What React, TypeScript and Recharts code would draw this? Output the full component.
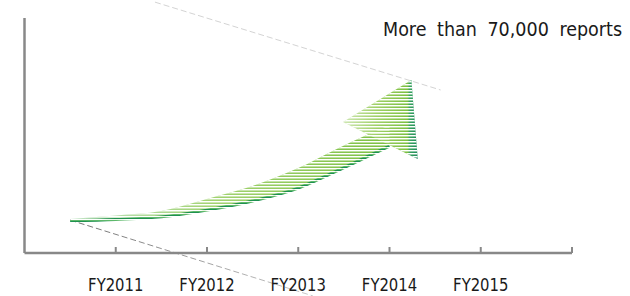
import React from 'react';
import { ComposedChart, Area, Line, XAxis, YAxis, ReferenceLine } from 'recharts';

// Axis categories (fiscal years) and their labels
const years = [2011, 2012, 2013, 2014, 2015, 2016];
const yearLabels = ['FY2011', 'FY2012', 'FY2013', 'FY2014', 'FY2015', ''];

// Growth arrow body: x position (fiscal year) with lower / upper edge values
const bodyX = [2010.5, 2011, 2011.5, 2012, 2012.5, 2013, 2013.4, 2013.75, 2014];
const bodyLow = [10.9, 11.4, 12.3, 14.6, 17.7, 22.1, 27.6, 32.7, 36.4];
const bodyHigh = [11.6, 12.8, 14.3, 18.4, 22.8, 28.9, 35.1, 40.2, 43.6];

// Arrow head: left point, tip, bottom-right corner
const headX = [2013.49, 2014.24, 2014.31];
const headLow = [44.6, 33.0, 32.0];
const headHigh = [44.6, 58.9, 32.0];

// Dashed guide lines
const guideTop = [{ x: 2011.43, y: 85.4 }, { x: 2014.56, y: 55.5 }];
const guideBottom = [{ x: 2010.5, y: 11.2 }, { x: 2013.16, y: -14.6 }];

const callout = 'More than 70,000 reports';

const bodyData = bodyX.map((x, i) => ({ x, range: [bodyLow[i], bodyHigh[i]], low: bodyLow[i] }));
const headData = headX.map((x, i) => ({ x, range: [headLow[i], headHigh[i]] }));

const FONT = "'DejaVu Sans Condensed', 'DejaVu Sans', sans-serif";

const Tick = (props: any) => {
  const { x, y, payload } = props;
  const idx = years.indexOf(payload.value);
  const label = idx >= 0 ? yearLabels[idx] : '';
  return (
    <text
      transform={`translate(${x},${y}) scale(1,1.08)`}
      x={0}
      y={0}
      textAnchor="middle"
      fontFamily={FONT}
      fontStretch="condensed"
      fontSize={16.5}
      fill="#1a1a1a"
    >
      {label}
    </text>
  );
};

export default function App() {
  return (
    <div style={{ position: 'absolute', left: 0, top: 0, width: 630, height: 296, background: '#fff' }}>
      <ComposedChart width={630} height={296} margin={{ top: 18, right: 58, bottom: 0, left: 0 }}>
        <defs>
          <linearGradient id="bodyGrad" x1="0" y1="0" x2="1" y2="0">
            <stop offset="0%" stopColor="#bfe2c4" />
            <stop offset="45%" stopColor="#a2d371" />
            <stop offset="100%" stopColor="#7cc042" />
          </linearGradient>
          <linearGradient id="headGrad" x1="0" y1="0" x2="1" y2="0">
            <stop offset="0%" stopColor="#cfe7b4" />
            <stop offset="45%" stopColor="#9fd066" />
            <stop offset="86%" stopColor="#7cc040" />
            <stop offset="89%" stopColor="#3aa35e" />
            <stop offset="100%" stopColor="#1d8b5c" />
          </linearGradient>
          <linearGradient id="guideGrad" x1="0" y1="0" x2="1" y2="0">
            <stop offset="0%" stopColor="#707070" />
            <stop offset="100%" stopColor="#c8c8c8" />
          </linearGradient>
          <pattern id="stripes" patternUnits="userSpaceOnUse" width="6" height="3">
            <rect x="0" y="0" width="6" height="1" fill="#ffffff" />
            <rect x="0" y="1" width="6" height="1" fill="#ffffff" fillOpacity="0.45" />
          </pattern>
          <pattern id="lineStripes" patternUnits="userSpaceOnUse" width="6" height="3">
            <rect x="0" y="1" width="6" height="1" fill="#5db86a" />
            <rect x="0" y="2" width="6" height="1" fill="#1f9150" />
          </pattern>
        </defs>
        <XAxis
          dataKey="x"
          type="number"
          domain={[2010, 2016]}
          ticks={years}
          interval={0}
          height={43}
          tickSize={-6}
          tickMargin={44}
          axisLine={{ stroke: '#888888', strokeWidth: 2.4 }}
          tickLine={{ stroke: '#888888', strokeWidth: 2 }}
          tick={<Tick />}
        />
        <YAxis
          type="number"
          domain={[0, 80]}
          width={24.5}
          tick={false}
          tickLine={false}
          axisLine={{ stroke: '#888888', strokeWidth: 2.5 }}
        />
        <ReferenceLine
          segment={guideTop}
          ifOverflow="visible"
          stroke="#d4d4d4"
          strokeWidth={1}
          strokeDasharray="6 3"
        />
        <ReferenceLine
          segment={guideBottom}
          ifOverflow="visible"
          stroke="url(#guideGrad)"
          strokeWidth={1}
          strokeDasharray="6 3"
        />
        <Area
          data={bodyData}
          dataKey="range"
          type="monotone"
          stroke="none"
          fill="url(#bodyGrad)"
          fillOpacity={1}
          isAnimationActive={false}
        />
        <Area
          data={headData}
          dataKey="range"
          type="linear"
          stroke="none"
          fill="url(#headGrad)"
          fillOpacity={1}
          isAnimationActive={false}
        />
        <Area
          data={bodyData}
          dataKey="range"
          type="monotone"
          stroke="none"
          fill="url(#stripes)"
          fillOpacity={1}
          isAnimationActive={false}
        />
        <Area
          data={headData}
          dataKey="range"
          type="linear"
          stroke="none"
          fill="url(#stripes)"
          fillOpacity={1}
          isAnimationActive={false}
        />
        <Line
          data={bodyData}
          dataKey="low"
          type="monotone"
          stroke="url(#lineStripes)"
          strokeWidth={3}
          dot={false}
          activeDot={false}
          isAnimationActive={false}
        />
        <text
          x={383}
          y={36}
          fontFamily={FONT}
          fontStretch="condensed"
          fontSize={19.5}
          fill="#1a1a1a"
          style={{ wordSpacing: 5 }}
        >
          {callout}
        </text>
      </ComposedChart>
    </div>
  );
}
